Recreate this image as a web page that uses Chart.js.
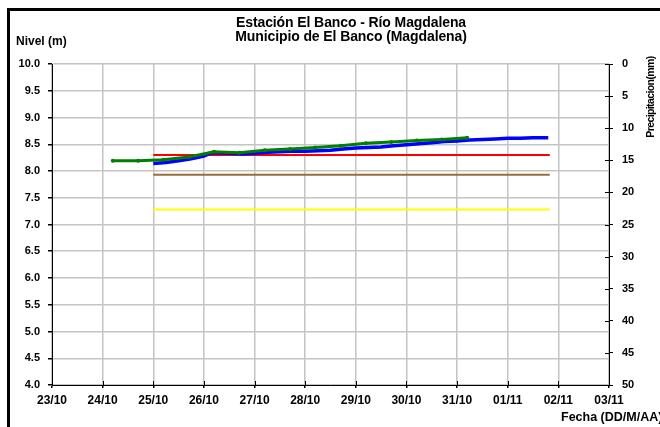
<!DOCTYPE html>
<html>
<head>
<meta charset="utf-8">
<script src="https://cdn.jsdelivr.net/npm/chart.js@4/dist/chart.umd.min.js"></script>
<style>
  html, body { margin: 0; padding: 0; background: #fff; overflow: hidden; }
  #wrap { position: relative; width: 660px; height: 427px; }
  #frame { position: absolute; left: 7px; top: 8px; width: 700px; height: 500px;
           border-left: 3px solid #000; border-top: 3px solid #000; pointer-events: none; }
  canvas { position: absolute; left: 0; top: 0; }
</style>
</head>
<body>
<div id="wrap">
  <canvas id="c" width="660" height="427"></canvas>
  <div id="frame"></div>
</div>
<script>
// ---- Data (x = days since 23/10 00:00) ----
const xTickLabels = ['23/10','24/10','25/10','26/10','27/10','28/10','29/10','30/10','31/10','01/11','02/11','03/11'];

const titleLines = ['Estación El Banco - Río Magdalena', 'Municipio de El Banco (Magdalena)'];
const yLeftTitle = 'Nivel (m)';
const yRightTitle = 'Precipitacion(mm)';
const xTitle = 'Fecha (DD/M/AA)';

// Blue: recorded level (sensor)
const levelTimes = [2.00,2.25,2.50,2.75,3.00,3.12,3.25,3.50,3.75,4.00,4.25,4.50,4.75,5.00,5.25,5.50,5.75,
                    6.00,6.25,6.50,6.75,7.00,7.25,7.50,7.75,8.00,8.25,8.50,8.75,9.00,9.25,9.50,9.80];
const levelValues = [8.14,8.16,8.19,8.23,8.28,8.33,8.34,8.33,8.32,8.33,8.35,8.36,8.37,8.37,8.38,8.39,8.41,
                     8.43,8.44,8.45,8.47,8.49,8.51,8.53,8.55,8.56,8.58,8.59,8.60,8.61,8.61,8.62,8.62];

// Green: observed level readings (twice a day)
const readTimes = [1.2,1.7,2.2,2.7,3.2,3.7,4.2,4.7,5.2,5.7,6.2,6.7,7.2,7.7,8.2];
const readValues = [8.19,8.19,8.21,8.26,8.36,8.34,8.39,8.41,8.44,8.47,8.52,8.54,8.57,8.59,8.62];

// Reference thresholds
const refTimes = [2.0, 9.83];
const redLevel = [8.30, 8.30];
const brownLevel = [7.93, 7.93];
const yellowLevel = [7.28, 7.28];

const pts = (xs, ys) => xs.map((x, i) => ({ x: x, y: ys[i] }));

const FONT = '"Liberation Sans", Arial, sans-serif';

const extrasPlugin = {
  id: 'extras',
  afterDraw(chart) {
    const ctx = chart.ctx;
    const xs = chart.scales.x, yl = chart.scales.y, yr = chart.scales.y1;
    ctx.save();
    ctx.strokeStyle = '#000';
    ctx.lineWidth = 1;
    ctx.beginPath();
    for (let v = 0; v <= 11; v++) {
      const px = Math.round(xs.getPixelForValue(v)) + 0.5;
      ctx.moveTo(px, yl.bottom - 4); ctx.lineTo(px, yl.bottom);
    }
    for (let v = 0; v <= 50; v += 5) {
      const py = Math.round(yr.getPixelForValue(v)) + 0.5;
      ctx.moveTo(chart.chartArea.right - 4, py); ctx.lineTo(chart.chartArea.right, py);
    }
    ctx.stroke();

    ctx.fillStyle = '#000';
    ctx.textBaseline = 'middle';
    ctx.textAlign = 'center';
    ctx.font = 'bold 14px ' + FONT;
    ctx.letterSpacing = '-0.1px';
    ctx.fillText(titleLines[0], 351, 23);
    ctx.fillText(titleLines[1], 351, 37);
    ctx.letterSpacing = '0px';
    ctx.font = 'bold 12px ' + FONT;
    ctx.textAlign = 'left';
    ctx.fillText(yLeftTitle, 16, 42);
    ctx.font = 'bold 12.5px ' + FONT;
    ctx.fillText(xTitle, 561, 418);
    ctx.translate(651, 97);
    ctx.rotate(-Math.PI / 2);
    ctx.textAlign = 'center';
    ctx.font = 'bold 10.5px ' + FONT;
    ctx.letterSpacing = '-0.6px';
    ctx.fillText(yRightTitle, 0, 0);
    ctx.restore();
  }
};

const gridColor = '#c4c4c4';

new Chart(document.getElementById('c'), {
  type: 'line',
  data: {
    datasets: [
      { label: 'Lecturas', data: pts(readTimes, readValues), borderColor: '#008000', backgroundColor: '#008000',
        borderWidth: 3, pointRadius: 2, pointBorderWidth: 0, tension: 0, order: 0 },
      { label: 'Nivel', data: pts(levelTimes, levelValues), borderColor: '#0000ff', backgroundColor: '#0000ff',
        borderWidth: 3.5, pointRadius: 0, tension: 0, order: 1 },
      { label: 'Rojo', data: pts(refTimes, redLevel), borderColor: '#ff0000', borderWidth: 2, pointRadius: 0, order: 2 },
      { label: 'Marron', data: pts(refTimes, brownLevel), borderColor: '#9c6b3c', borderWidth: 2, pointRadius: 0, order: 3 },
      { label: 'Amarillo', data: pts(refTimes, yellowLevel), borderColor: '#ffff00', borderWidth: 2, pointRadius: 0, order: 4 }
    ]
  },
  options: {
    responsive: false,
    animation: false,
    events: [],
    layout: { padding: { top: 64, left: 0, right: 0, bottom: 0 } },
    plugins: { legend: { display: false }, title: { display: false }, tooltip: { enabled: false } },
    scales: {
      x: {
        type: 'linear', min: 0, max: 11,
        afterFit(s) { s.height = 42; },
        ticks: { stepSize: 1, autoSkip: false, maxRotation: 0, padding: 5, color: '#000',
                 font: { family: FONT, size: 12, weight: 'bold' },
                 callback: (v) => xTickLabels[v] },
        grid: { color: gridColor, lineWidth: 1.5, tickLength: 3, tickColor: '#000' },
        border: { color: '#000', width: 1 }
      },
      y: {
        type: 'linear', position: 'left', min: 4, max: 10,
        afterFit(s) { s.width = 52; },
        ticks: { stepSize: 0.5, padding: 8, color: '#000',
                 font: { family: FONT, size: 11, weight: 'bold' },
                 callback: (v) => Number(v).toFixed(1) },
        grid: { color: gridColor, lineWidth: 1.5, tickLength: 4, tickColor: '#000' },
        border: { color: '#000', width: 1 }
      },
      y1: {
        type: 'linear', position: 'right', min: 0, max: 50, reverse: true,
        afterFit(s) { s.width = 51; },
        ticks: { stepSize: 5, padding: 9, color: '#000',
                 font: { family: FONT, size: 11, weight: 'bold' } },
        grid: { drawOnChartArea: false, tickLength: 4, tickColor: '#000' },
        border: { color: '#000', width: 1 }
      }
    }
  },
  plugins: [extrasPlugin]
});
</script>
</body>
</html>
